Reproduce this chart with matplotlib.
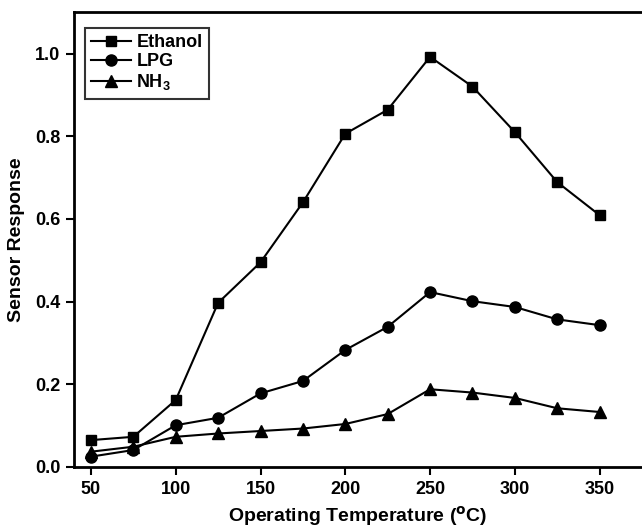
import numpy as np
import matplotlib
matplotlib.use('Agg')
import matplotlib.pyplot as plt

plt.rcParams['font.family'] = ['Liberation Sans', 'DejaVu Sans']
plt.rcParams['font.weight'] = 'bold'
plt.rcParams['mathtext.default'] = 'regular'

# Sensor response vs operating temperature
temperature = [50, 75, 100, 125, 150, 175, 200, 225, 250, 275, 300, 325, 350]
ethanol = [0.065, 0.073, 0.162, 0.397, 0.495, 0.640, 0.806, 0.864, 0.992, 0.920, 0.810, 0.689, 0.609]
lpg = [0.025, 0.041, 0.101, 0.119, 0.178, 0.208, 0.283, 0.339, 0.423, 0.401, 0.387, 0.357, 0.343]
nh3 = [0.037, 0.049, 0.073, 0.081, 0.087, 0.093, 0.104, 0.128, 0.188, 0.180, 0.167, 0.142, 0.133]

fig = plt.figure(figsize=(6.42, 5.30), dpi=100)
ax = fig.add_axes([0.1153, 0.1189, 0.8847, 0.8581])

ax.plot(temperature, ethanol, color='black', marker='s', markersize=7, linewidth=1.5, label='Ethanol')
ax.plot(temperature, lpg, color='black', marker='o', markersize=8, linewidth=1.5, label='LPG')
ax.plot(temperature, nh3, color='black', marker='^', markersize=8, linewidth=1.5, label='NH$_3$')

ax.set_xlim(40, 375)
ax.set_ylim(0, 1.1)
ax.set_xticks([50, 100, 150, 200, 250, 300, 350])
ax.set_yticks([0.0, 0.2, 0.4, 0.6, 0.8, 1.0])
ax.set_yticklabels(['0.0', '0.2', '0.4', '0.6', '0.8', '1.0'])

for side in ['left', 'bottom', 'top']:
    ax.spines[side].set_linewidth(2)
ax.spines['right'].set_visible(False)
ax.tick_params(direction='out', length=6, width=1.5, labelsize=13, pad=4)

ax.set_xlabel('Operating Temperature ($^{\\mathbf{o}}$C)', fontsize=14, fontweight='bold', labelpad=5)
ax.set_ylabel('Sensor Response', fontsize=14, fontweight='bold', labelpad=7)

leg = ax.legend(loc='upper left', bbox_to_anchor=(0.0, 0.99), fontsize=13, frameon=True,
                fancybox=False, edgecolor='black', handlelength=2.2, handletextpad=0.3,
                labelspacing=0.12, borderpad=0.35, borderaxespad=0.6)
leg.get_frame().set_linewidth(1.5)

fig.savefig('out.png', dpi=100)
